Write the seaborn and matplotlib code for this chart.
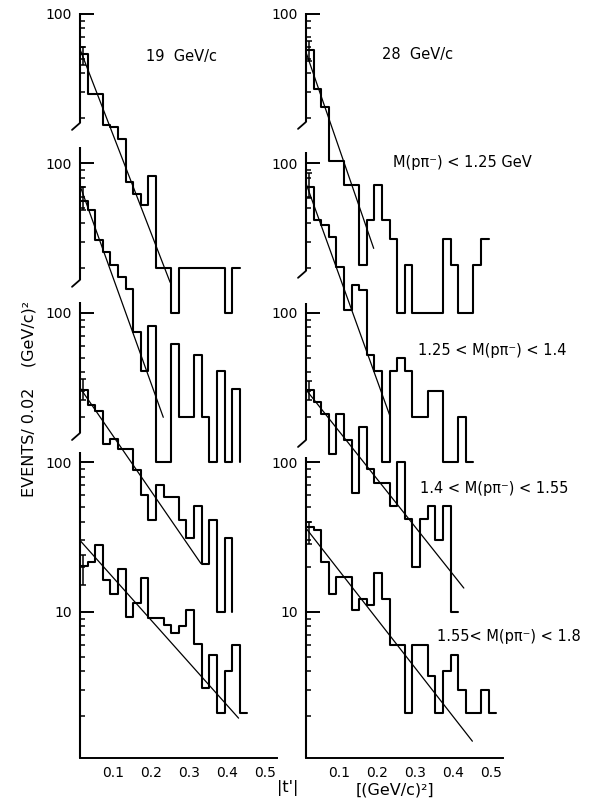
import numpy as np
import pandas as pd
import matplotlib
matplotlib.use("Agg")
import matplotlib.pyplot as plt
from matplotlib.ticker import NullFormatter
from matplotlib.transforms import ScaledTranslation
import seaborn as sns

sns.set_style("white")
plt.rcParams['font.family'] = ['DejaVu Sans']

# ---------------- data ----------------
BIN_WIDTH = 0.02                      # |t'| bin width, (GeV/c)^2
momenta = ["19  GeV/c", "28  GeV/c"]
mass_labels = ["M(pπ⁻) < 1.25 GeV", "1.25 < M(pπ⁻) < 1.4",
               "1.4 < M(pπ⁻) < 1.55", "1.55< M(pπ⁻) < 1.8"]
stack_factors = [1000, 100, 10, 1]    # vertical offsets of the stacked histograms

# events / 0.02 (GeV/c)^2, per bin starting at |t'| = 0
p19_m1 = [54, 29, 29, 18, 17.5, 14.5, 7.5, 6.2, 5.3, 8.2, 2, 2, 1, 2, 2, 2, 2, 2, 2, 1, 2]
p19_m2 = [56, 48.5, 30.5, 25.5, 21, 17.3, 14.5, 7.5, 4.1, 8.2, 1, 1, 6.2, 2, 2, 5.2, 2, 1, 4.1, 1, 3.1]
p19_m3 = [30.6, 24.2, 21.9, 13.3, 14.3, 12.3, 12.3, 8.9, 6, 4.1, 7.1, 5.9, 5.9, 4.1, 3.1, 5.1, 2.1, 4.1, 1, 3.1]
p19_m4 = [20.3, 21.6, 27.8, 16.2, 13.2, 19.2, 9.2, 11.5, 16.9, 9.1, 9.1, 8.1, 7.2, 8, 10.2, 6.1, 3.1, 5.1, 2.1, 4, 6, 2.1]

p28_m1 = [57, 31.5, 23.7, 10.4, 10.4, 7.2, 7.2, 2.1, 4.2, 7.2, 4.2, 3.1, 1, 2.1, 1, 1, 1, 1, 3.1, 2.1, 1, 1, 2.1, 3.1]
p28_m2 = [70, 41.5, 38.5, 32, 20.2, 10.4, 15.3, 14.2, 5.2, 4.1, 1, 4.1, 5, 4.1, 2, 2, 3, 3, 1, 1, 2, 1]
p28_m3 = [30.6, 25.5, 21.1, 11.4, 21.1, 14.2, 6.2, 17.3, 9.0, 7.3, 7.3, 5.1, 10.1, 4.2, 2.0, 4.2, 5.1, 3.0, 5.1, 1.0]
p28_m4 = [36.8, 35.1, 21.6, 13.2, 17.1, 17.1, 10.3, 12.2, 11.1, 18.2, 12.1, 6, 6, 2.1, 6, 6, 3.7, 2.1, 4, 5.1, 3, 2.1, 2.1, 3, 2.1]

# level the last bin drops to (None = no drop)
p19_end = [None, 1, 1, None]
p28_end = [None, None, None, None]

# exponential fits: value at t=0, end point (t, value)
p19_fit_v0 = [58, 71, 31.5, 30]
p19_fit_t1 = [0.237, 0.219, 0.318, 0.417]
p19_fit_v1 = [1.6, 2.0, 2.1, 1.94]
p28_fit_v0 = [55.4, 73.5, 30.6, 36.2]
p28_fit_t1 = [0.178, 0.222, 0.415, 0.4375]
p28_fit_v1 = [2.7, 2.0, 1.44, 1.36]

# error bar of the first bin
p19_err_lo = [45.6, 48.5, 26, 15.2]
p19_err_hi = [60, 69, 36, 24]
p28_err_lo = [48.5, 59, 26, 28.6]
p28_err_hi = [66, 86, 35, 40]

x_ticks = [0.1, 0.2, 0.3, 0.4, 0.5]
x_ticklabels = ["0.1", "0.2", "0.3", "0.4", "0.5"]
y_major = [10, 100, 1e3, 1e4, 1e5]
y_major_labels = ["10", "100", "100", "100", "100"]

panels = [
    dict(hists=[p19_m1, p19_m2, p19_m3, p19_m4], end=p19_end,
         fv0=p19_fit_v0, ft1=p19_fit_t1, fv1=p19_fit_v1,
         elo=p19_err_lo, ehi=p19_err_hi,
         spine=[(1.02e5, 18660), (12880, 1663), (1186, 157), (117, None)]),
    dict(hists=[p28_m1, p28_m2, p28_m3, p28_m4], end=p28_end,
         fv0=p28_fit_v0, ft1=p28_fit_t1, fv1=p28_fit_v1,
         elo=p28_err_lo, ehi=p28_err_hi,
         spine=[(1.02e5, 18950), (11940, 1910), (1170, 141), (109, None)]),
]

# ---------------- figure ----------------
W, H = 591, 800
fig = plt.figure(figsize=(W / 100, H / 100), dpi=100)
YMIN, YMAX = 1.05, 1.148e5
XMAX = 0.518

minor = []
for f in [1000, 100, 10]:
    minor += [m * f * 10 for m in range(2, 10)]
minor += [m * 10 for m in range(2, 10)] + list(range(2, 10))

for i, (left_px, pan) in enumerate(zip([80, 306], panels)):
    ax = fig.add_axes([left_px / W, 42 / H, 197 / W, 753 / H])
    ax.set_yscale('log')
    ax.set_xlim(0, XMAX)
    ax.set_ylim(YMIN, YMAX)

    for j, vals in enumerate(pan['hists']):
        f = stack_factors[j]
        n = len(vals)
        t = [BIN_WIDTH * b for b in range(n + 1)]
        y = [v * f for v in vals] + [vals[-1] * f]
        if pan['end'][j] is not None:
            t = t + [t[-1]]
            y = y + [pan['end'][j] * f]
        df = pd.DataFrame({'t': t, 'y': y})
        sns.lineplot(data=df, x='t', y='y', drawstyle='steps-post', estimator=None,
                     sort=False, color='black', lw=1.5, ax=ax)
        # fit line
        fdf = pd.DataFrame({'t': [0.0, pan['ft1'][j]],
                            'y': [pan['fv0'][j] * f, pan['fv1'][j] * f]})
        sns.lineplot(data=fdf, x='t', y='y', estimator=None, sort=False,
                     color='black', lw=0.9, ax=ax)
        # error bar on first bin
        yc = vals[0] * f
        ax.errorbar([0.008], [yc],
                    yerr=[[yc - pan['elo'][j] * f], [pan['ehi'][j] * f - yc]],
                    fmt='none', ecolor='black', elinewidth=1.1, capsize=2.2,
                    capthick=1.1)

    # broken left axis
    for (top, bot) in pan['spine']:
        b = YMIN if bot is None else bot
        ax.plot([0, 0], [top, b], color='black', lw=1.5, clip_on=False,
                solid_capstyle='butt')
        if bot is not None:
            ax.plot([0, -0.021], [bot, bot * 0.898], color='black', lw=1.3,
                    clip_on=False)

    ax.set_xlabel('')
    ax.set_ylabel('')
    for s in ['top', 'right', 'left']:
        ax.spines[s].set_visible(False)
    ax.spines['bottom'].set_linewidth(1.4)
    ax.spines['bottom'].set_color('black')

    ax.set_yticks(y_major)
    ax.set_yticklabels(y_major_labels)
    ax.set_yticks(minor, minor=True)
    ax.yaxis.set_minor_formatter(NullFormatter())
    ax.tick_params(axis='y', which='both', left=True, right=False)
    ax.tick_params(axis='y', which='major', direction='in', length=10,
                   width=1.4, pad=6, labelsize=10, colors='black')
    ax.tick_params(axis='y', which='minor', direction='in', length=3.5,
                   width=1.1, colors='black')
    ax.set_xticks(x_ticks)
    ax.set_xticklabels(x_ticklabels)
    ax.tick_params(axis='x', which='both', bottom=False, length=0, pad=6,
                   labelsize=10, colors='black')
    for lab in ax.get_xticklabels():
        lab.set_transform(lab.get_transform() +
                          ScaledTranslation(-5 / 100, 0, fig.dpi_scale_trans))
    ax.patch.set_alpha(0)

# texts
def ftext(x, y, s, **kw):
    fig.text(x / W, 1 - y / H, s, color='black', **kw)

ftext(181, 56, momenta[0], ha='center', va='center', fontsize=10.5)
ftext(418, 54, momenta[1], ha='center', va='center', fontsize=10.5)
ftext(393, 163, mass_labels[0], ha='left', va='center', fontsize=10.5)
ftext(418, 351, mass_labels[1], ha='left', va='center', fontsize=10.5)
ftext(420, 488, mass_labels[2], ha='left', va='center', fontsize=10.5)
ftext(437, 637, mass_labels[3], ha='left', va='center', fontsize=10.5)
ftext(29, 399, "EVENTS/ 0.02    (GeV/c)²", rotation=90, ha='center',
      va='center', fontsize=11.5)
ftext(288, 788, "|t'|", ha='center', va='center', fontsize=11.5)
ftext(395, 790, "[(GeV/c)²]", ha='center', va='center', fontsize=11.5)

fig.savefig("out.png", dpi=100, facecolor='white')
